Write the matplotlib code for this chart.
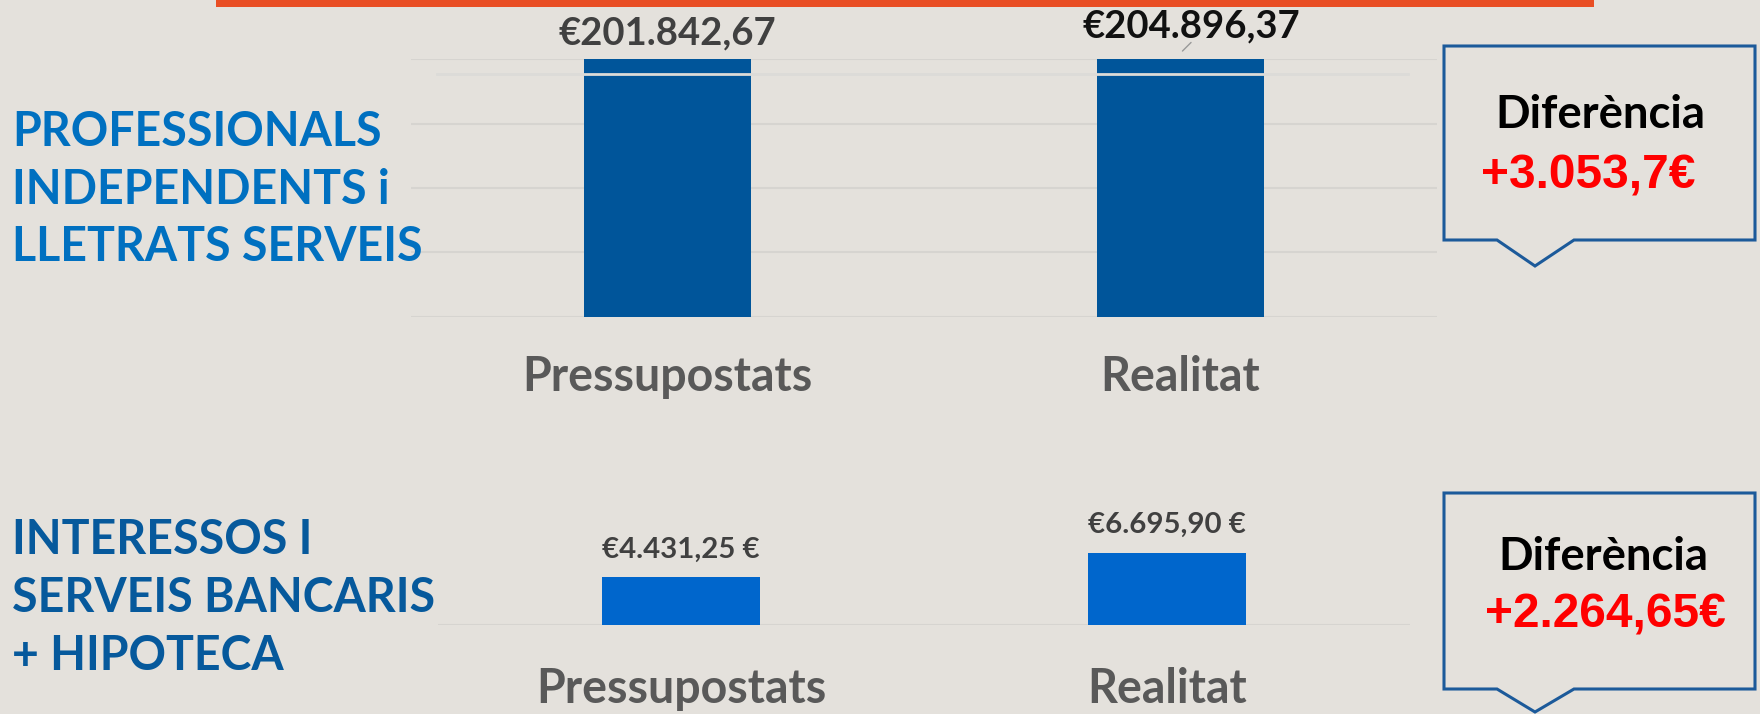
import numpy as np
from matplotlib import pyplot as plt
from matplotlib.patches import Polygon

# data
categories = ["Pressupostats", "Realitat"]
professionals = [201842.67, 204896.37]
professionals_labels = ["€201.842,67", "€204.896,37"]
interessos = [4431.25, 6695.90]
interessos_labels = ["€4.431,25 €", "€6.695,90 €"]
diff_labels = ["+3.053,7€", "+2.264,65€"]
titles = [["PROFESSIONALS", "INDEPENDENTS i", "LLETRATS SERVEIS"],
          ["INTERESSOS I", "SERVEIS BANCARIS", "+ HIPOTECA"]]

W, H = 1760, 714
BG = "#e4e1dc"
FONT = "Lato"

def fx(px):
    return px / W

def fy(py):
    return 1 - py / H

fig = plt.figure(figsize=(W / 100, H / 100), dpi=100, facecolor=BG)

# orange rule on top
fig.add_artist(plt.Rectangle((fx(216), fy(7)), fx(1594) - fx(216), 7 / H,
                             transform=fig.transFigure, color="#e94e24", lw=0))

# ---- top chart
ax1 = fig.add_axes([fx(411), fy(316.5), fx(1437) - fx(411), (316.5 - 59.3) / H])
ax1.set_facecolor("none")
x = np.arange(len(categories))
ax1.bar(x, professionals, width=0.326, color="#00559a", zorder=2)
ax1.set_xlim(-0.5, 1.5)
ax1.set_ylim(0, 200000)
ax1.set_yticks(np.arange(0, 200001, 50000))
ax1.yaxis.grid(True, color="#d6d4d0", lw=1.5, zorder=0)
ax1.axhline(188600, xmin=0.025, xmax=0.972, color="#dcdbd8", lw=2, zorder=3)
ax1.tick_params(left=False, bottom=False, labelleft=False)
for s in ax1.spines.values():
    s.set_visible(False)
ax1.set_xticks(x)
ax1.set_xticklabels(categories, fontsize=33.5, fontweight="bold", color="#595959",
                    family=FONT)
ax1.tick_params(axis="x", pad=24)

lab_colors = ["#404040", "#111111"]
for i, (v, t) in enumerate(zip(professionals, professionals_labels)):
    ax1.annotate(t, (x[i], v), xytext=(8 * i, 17 + 2 * i), textcoords="offset points",
                 ha="center", va="center", fontsize=27.5, fontweight="bold",
                 color=lab_colors[i], family=FONT, annotation_clip=False)
# small leader line on the second label
ax1.annotate("", (x[1], professionals[1]), xytext=(9, 9), textcoords="offset points",
             arrowprops=dict(arrowstyle="-", color="#999999", lw=1), annotation_clip=False)

# ---- bottom chart
ax2 = fig.add_axes([fx(438), fy(625), fx(1410) - fx(438), 107.5 / H])
ax2.set_facecolor("none")
ax2.bar(x, interessos, width=0.326, color="#0066cc", zorder=2)
ax2.set_xlim(-0.5, 1.5)
ax2.set_ylim(0, 10000)
ax2.axhline(0, color="#d6d4d0", lw=1.5, zorder=1)
ax2.tick_params(left=False, bottom=False, labelleft=False)
for s in ax2.spines.values():
    s.set_visible(False)
ax2.set_xticks(x)
ax2.set_xticklabels(categories, fontsize=33.5, fontweight="bold", color="#595959",
                    family=FONT)
ax2.tick_params(axis="x", pad=27)
for i, (v, t) in enumerate(zip(interessos, interessos_labels)):
    ax2.annotate(t, (x[i], v), xytext=(0, 20), textcoords="offset points",
                 ha="center", va="center", fontsize=21.2, fontweight="bold",
                 color="#404040", family=FONT, annotation_clip=False)

# ---- left titles
title_colors = ["#0070c0", "#06599c"]
title_rows = [[132, 190, 247], [540, 598, 656]]
for lines, rows, c in zip(titles, title_rows, title_colors):
    for line, yy in zip(lines, rows):
        fig.text(fx(12), fy(yy), line, fontsize=33.5, fontweight="bold", color=c,
                 family=FONT, ha="left", va="center")

# ---- callouts
boxes = [(46, 240, 266), (493, 689, 712)]
text_pos = [((1600, 115), (1588, 176)), ((1603, 557), (1605, 615))]
for (top, bot, tip), dl, (p1, p2) in zip(boxes, diff_labels, text_pos):
    pts = [(1444, top), (1755, top), (1755, bot), (1574, bot), (1535, tip),
           (1497, bot), (1444, bot)]
    fig.add_artist(Polygon([(fx(a), fy(b)) for a, b in pts], closed=True,
                           transform=fig.transFigure, fill=False,
                           edgecolor="#1c5a9a", lw=2.2))
    fig.text(fx(p1[0]), fy(p1[1]), "Diferència", fontsize=32.8, fontweight="bold",
             color="black", family=FONT, ha="center", va="center")
    fig.text(fx(p2[0]), fy(p2[1]), dl, fontsize=34.5, fontweight="bold",
             color="#ff0000", family="Liberation Sans", ha="center", va="center")

fig.savefig("out.png", dpi=100, facecolor=BG)
